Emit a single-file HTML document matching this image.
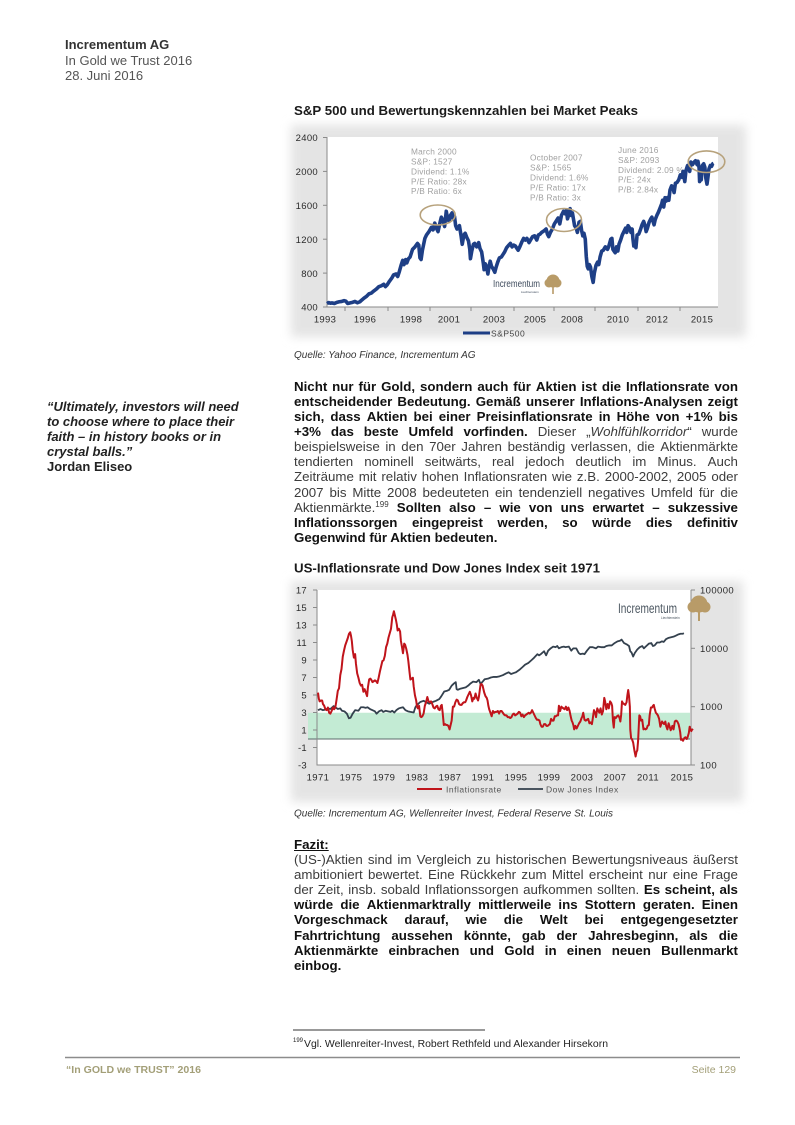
<!DOCTYPE html>
<html><head><meta charset="utf-8">
<style>
html,body{margin:0;padding:0;background:#fff;}
body{width:795px;height:1125px;position:relative;overflow:hidden;font-family:"Liberation Sans",Arial,sans-serif;}
svg{position:absolute;left:0;top:0;}
.hdr{position:absolute;left:65px;top:37px;font-size:13px;line-height:15.5px;color:#555;white-space:nowrap}
.hdr b{color:#333}
.col{position:absolute;left:294px;width:444px;font-size:13.3px;line-height:15.17px;color:#3c3c3c;}
.col b{color:#111}
.j{display:flex;justify-content:space-between;white-space:nowrap;height:15.17px}
.l{white-space:nowrap;height:15.17px}
sup{font-size:8px;line-height:0;vertical-align:5px}
.quote{position:absolute;left:47px;top:398.5px;font-size:13px;line-height:15.2px;color:#222;font-weight:bold;white-space:nowrap}
</style></head>
<body>

<div class="hdr"><b>Incrementum AG</b><br>In Gold we Trust 2016<br>28. Juni 2016</div>

<div class="quote"><i>“Ultimately, investors will need<br>to choose where to place their<br>faith – in history books or in<br>crystal balls.”</i><br>Jordan Eliseo</div>

<svg width="795" height="1125" viewBox="0 0 795 1125" xmlns="http://www.w3.org/2000/svg">
<defs>
<filter id="bl" x="-10%" y="-20%" width="120%" height="140%"><feGaussianBlur stdDeviation="5"/></filter>
</defs>

<!-- ===== Chart 1 ===== -->
<text x="294" y="115" font-family="Liberation Sans, Arial, sans-serif" font-weight="bold" font-size="13" fill="#1a1a1a" textLength="344" lengthAdjust="spacingAndGlyphs">S&amp;P 500 und Bewertungskennzahlen bei Market Peaks</text>
<rect x="291" y="125" width="455" height="212" fill="#e4e4e4" filter="url(#bl)"/>
<rect x="327" y="137" width="391" height="170" fill="#fff"/>
<g stroke="#8a8a8a" stroke-width="1">
<line x1="327" y1="137" x2="327" y2="307.5"/>
<line x1="327" y1="307" x2="718" y2="307"/>
<line x1="323" y1="137.5" x2="327" y2="137.5"/>
<line x1="323" y1="171.4" x2="327" y2="171.4"/>
<line x1="323" y1="205.3" x2="327" y2="205.3"/>
<line x1="323" y1="239.2" x2="327" y2="239.2"/>
<line x1="323" y1="273.1" x2="327" y2="273.1"/>
<line x1="323" y1="307" x2="327" y2="307"/>
<line x1="345" y1="307" x2="345" y2="311"/><line x1="388" y1="307" x2="388" y2="311"/>
<line x1="430" y1="307" x2="430" y2="311"/><line x1="471" y1="307" x2="471" y2="311"/>
<line x1="514" y1="307" x2="514" y2="311"/><line x1="554" y1="307" x2="554" y2="311"/>
<line x1="595" y1="307" x2="595" y2="311"/><line x1="638" y1="307" x2="638" y2="311"/>
<line x1="680" y1="307" x2="680" y2="311"/>
</g>
<g font-family="Liberation Sans, Arial, sans-serif" font-size="9.5" fill="#2a2a2a" text-anchor="end" letter-spacing="0.3">
<text x="318" y="141">2400</text><text x="318" y="175">2000</text><text x="318" y="209">1600</text>
<text x="318" y="243">1200</text><text x="318" y="277">800</text><text x="318" y="310.5">400</text>
</g>
<g font-family="Liberation Sans, Arial, sans-serif" font-size="9.5" fill="#2a2a2a" text-anchor="middle" letter-spacing="0.3">
<text x="325" y="322.5">1993</text><text x="365" y="322.5">1996</text><text x="411" y="322.5">1998</text>
<text x="449" y="322.5">2001</text><text x="494" y="322.5">2003</text><text x="535" y="322.5">2005</text>
<text x="572" y="322.5">2008</text><text x="618" y="322.5">2010</text><text x="657" y="322.5">2012</text>
<text x="702" y="322.5">2015</text>
</g>
<!-- annotations -->
<g font-family="Liberation Sans, Arial, sans-serif" font-size="8.3" fill="#a0a0a0" letter-spacing="0.2">
<text x="411" y="154.7">March 2000</text><text x="411" y="164.7">S&amp;P: 1527</text><text x="411" y="174.5">Dividend: 1.1%</text><text x="411" y="184.3">P/E Ratio: 28x</text><text x="411" y="194">P/B Ratio: 6x</text>
<text x="530" y="160.3">October 2007</text><text x="530" y="170.3">S&amp;P: 1565</text><text x="530" y="180.3">Dividend: 1.6%</text><text x="530" y="190.3">P/E Ratio: 17x</text><text x="530" y="200.3">P/B Ratio: 3x</text>
<text x="618" y="153">June 2016</text><text x="618" y="163">S&amp;P: 2093</text><text x="618" y="173">Dividend: 2.09 %</text><text x="618" y="182.7">P/E: 24x</text><text x="618" y="192.3">P/B: 2.84x</text>
</g>
<!-- logo 1 -->
<text x="493" y="287" font-family="Liberation Sans, Arial, sans-serif" font-size="10.5" fill="#3d4a5c" textLength="47" lengthAdjust="spacingAndGlyphs">Incrementum</text>
<text x="521" y="293" font-family="Liberation Sans, Arial, sans-serif" font-size="3" fill="#3d4a5c">Liechtenstein</text>
<g fill="#b89b68"><circle cx="553" cy="281" r="6.5"/><circle cx="549" cy="283" r="4.5"/><circle cx="557" cy="283" r="4.5"/><rect x="552.2" y="284" width="1.6" height="10"/></g>
<!-- S&P line -->
<g transform="translate(327 307) scale(16.45 -0.08475) translate(-1993 -400)">
<polyline fill="none" stroke="#1e3f86" stroke-width="3.6" stroke-linejoin="round" vector-effect="non-scaling-stroke" points="1993.00,440 1993.10,452 1993.20,445 1993.30,448 1993.45,442 1993.60,455 1993.75,462 1993.90,466 1994.05,475 1994.15,468 1994.25,442 1994.40,448 1994.55,455 1994.70,465 1994.85,450 1995.00,462 1995.10,480 1995.25,505 1995.40,525 1995.55,555 1995.70,565 1995.85,590 1996.00,612 1996.15,640 1996.30,650 1996.45,668 1996.55,640 1996.65,660 1996.80,705 1996.95,745 1997.05,780 1997.20,790 1997.30,760 1997.40,820 1997.50,890 1997.60,950 1997.68,900 1997.78,960 1997.85,920 1997.95,970 1998.05,990 1998.20,1080 1998.35,1110 1998.50,1150 1998.58,1130 1998.65,980 1998.72,960 1998.80,1070 1998.95,1210 1999.05,1250 1999.20,1290 1999.35,1340 1999.45,1310 1999.55,1390 1999.65,1330 1999.75,1290 1999.85,1380 1999.95,1460 2000.05,1420 2000.15,1350 2000.25,1530 2000.33,1440 2000.42,1410 2000.50,1480 2000.60,1510 2000.68,1440 2000.75,1470 2000.82,1360 2000.90,1320 2000.98,1340 2001.05,1360 2001.15,1240 2001.22,1140 2001.32,1250 2001.40,1270 2001.50,1220 2001.60,1180 2001.68,1080 2001.72,970 2001.80,1060 2001.90,1140 2001.98,1150 2002.10,1110 2002.22,1160 2002.30,1090 2002.40,1050 2002.50,920 2002.55,840 2002.62,910 2002.70,870 2002.78,790 2002.85,880 2002.92,940 2003.00,880 2003.10,850 2003.20,810 2003.28,870 2003.38,930 2003.48,980 2003.60,990 2003.70,1020 2003.80,1050 2003.92,1100 2004.05,1130 2004.15,1150 2004.25,1110 2004.35,1130 2004.45,1120 2004.55,1090 2004.62,1070 2004.72,1110 2004.85,1170 2004.95,1210 2005.05,1190 2005.15,1210 2005.28,1160 2005.40,1200 2005.50,1230 2005.62,1240 2005.75,1190 2005.85,1250 2005.95,1260 2006.05,1280 2006.20,1300 2006.32,1320 2006.40,1260 2006.48,1230 2006.58,1280 2006.70,1320 2006.82,1380 2006.95,1420 2007.05,1450 2007.15,1380 2007.25,1480 2007.38,1530 2007.48,1500 2007.55,1540 2007.62,1440 2007.70,1490 2007.78,1560 2007.85,1480 2007.92,1510 2007.98,1440 2008.05,1360 2008.15,1330 2008.22,1280 2008.32,1400 2008.40,1410 2008.48,1300 2008.55,1240 2008.62,1270 2008.70,1200 2008.76,1000 2008.82,880 2008.88,850 2008.95,900 2009.02,870 2009.10,760 2009.18,690 2009.25,800 2009.35,890 2009.45,930 2009.52,900 2009.60,990 2009.70,1060 2009.80,1070 2009.92,1110 2010.05,1080 2010.12,1110 2010.25,1200 2010.32,1210 2010.38,1080 2010.45,1060 2010.52,1040 2010.60,1110 2010.68,1060 2010.75,1140 2010.85,1190 2010.95,1250 2011.05,1290 2011.15,1330 2011.22,1280 2011.30,1360 2011.40,1330 2011.48,1280 2011.55,1320 2011.60,1200 2011.65,1120 2011.72,1170 2011.78,1100 2011.85,1250 2011.95,1260 2012.05,1310 2012.15,1370 2012.25,1410 2012.32,1370 2012.40,1290 2012.48,1330 2012.58,1400 2012.68,1440 2012.75,1460 2012.82,1410 2012.88,1370 2012.95,1430 2013.05,1480 2013.15,1520 2013.25,1570 2013.35,1620 2013.40,1660 2013.47,1580 2013.55,1690 2013.62,1650 2013.70,1690 2013.78,1660 2013.85,1780 2013.95,1830 2014.05,1790 2014.10,1750 2014.18,1860 2014.28,1870 2014.38,1900 2014.48,1960 2014.58,1930 2014.65,2000 2014.75,1880 2014.82,2010 2014.92,2070 2014.98,2040 2015.05,2000 2015.12,2110 2015.22,2080 2015.32,2110 2015.40,2125 2015.50,2080 2015.55,2120 2015.62,2040 2015.65,1880 2015.70,1930 2015.75,1900 2015.82,2070 2015.90,2090 2015.97,2050 2016.03,1920 2016.10,1850 2016.15,1920 2016.22,2030 2016.30,2070 2016.38,2060 2016.45,2090 2016.50,2095"/>
</g>
<!-- ellipses -->
<g fill="none" stroke="#b7a27c" stroke-width="1.6">
<ellipse cx="437.7" cy="215" rx="17.5" ry="10"/>
<ellipse cx="564" cy="220" rx="17.5" ry="11.5"/>
<ellipse cx="706.5" cy="161.7" rx="18.3" ry="10.8"/>
</g>
<!-- legend 1 -->
<line x1="463" y1="333" x2="490" y2="333" stroke="#1e3f86" stroke-width="3"/>
<text x="491" y="336.3" font-family="Liberation Sans, Arial, sans-serif" font-size="8.5" fill="#444" letter-spacing="0.5">S&amp;P500</text>
<text x="294" y="358" font-family="Liberation Sans, Arial, sans-serif" font-style="italic" font-size="10" fill="#333">Quelle: Yahoo Finance, Incrementum AG</text>

<!-- ===== Chart 2 ===== -->
<text x="294" y="572.5" font-family="Liberation Sans, Arial, sans-serif" font-weight="bold" font-size="13" fill="#1a1a1a" textLength="306" lengthAdjust="spacingAndGlyphs">US-Inflationsrate und Dow Jones Index seit 1971</text>
<rect x="291" y="581" width="452" height="221" fill="#e4e4e4" filter="url(#bl)"/>
<rect x="317" y="590" width="374" height="175" fill="#fff"/>
<rect x="308" y="712.75" width="382" height="26.25" fill="#c3ebd4"/>
<line x1="308" y1="739" x2="690" y2="739" stroke="#5d6b6b" stroke-width="1"/>
<g stroke="#8a8a8a" stroke-width="1">
<line x1="317" y1="590" x2="317" y2="765.5"/>
<line x1="691" y1="590" x2="691" y2="765.5"/>
<line x1="317" y1="765" x2="691" y2="765"/>
<line x1="313" y1="590" x2="317" y2="590"/><line x1="313" y1="607.5" x2="317" y2="607.5"/>
<line x1="313" y1="625" x2="317" y2="625"/><line x1="313" y1="642.5" x2="317" y2="642.5"/>
<line x1="313" y1="660" x2="317" y2="660"/><line x1="313" y1="677.5" x2="317" y2="677.5"/>
<line x1="313" y1="695" x2="317" y2="695"/><line x1="313" y1="712.5" x2="317" y2="712.5"/>
<line x1="313" y1="730" x2="317" y2="730"/><line x1="313" y1="747.5" x2="317" y2="747.5"/>
<line x1="691" y1="590" x2="695" y2="590"/><line x1="691" y1="648.3" x2="695" y2="648.3"/>
<line x1="691" y1="706.7" x2="695" y2="706.7"/><line x1="691" y1="765" x2="695" y2="765"/>
</g>
<g font-family="Liberation Sans, Arial, sans-serif" font-size="9.5" fill="#2a2a2a" text-anchor="end" letter-spacing="0.3">
<text x="307" y="593.5">17</text><text x="307" y="611">15</text><text x="307" y="628.5">13</text>
<text x="307" y="646">11</text><text x="307" y="663.5">9</text><text x="307" y="681">7</text>
<text x="307" y="698.5">5</text><text x="307" y="716">3</text><text x="307" y="733.5">1</text>
<text x="307" y="751">-1</text><text x="307" y="768.5">-3</text>
</g>
<g font-family="Liberation Sans, Arial, sans-serif" font-size="9.5" fill="#2a2a2a" letter-spacing="0.4">
<text x="700" y="593.5">100000</text><text x="700" y="651.8">10000</text>
<text x="700" y="710.2">1000</text><text x="700" y="768.5">100</text>
</g>
<g font-family="Liberation Sans, Arial, sans-serif" font-size="9.5" fill="#2a2a2a" text-anchor="middle" letter-spacing="0.4">
<text x="318" y="780.5">1971</text><text x="351" y="780.5">1975</text><text x="384" y="780.5">1979</text>
<text x="417" y="780.5">1983</text><text x="450" y="780.5">1987</text><text x="483" y="780.5">1991</text>
<text x="516" y="780.5">1995</text><text x="549" y="780.5">1999</text><text x="582" y="780.5">2003</text>
<text x="615" y="780.5">2007</text><text x="648" y="780.5">2011</text><text x="682" y="780.5">2015</text>
</g>
<!-- logo 2 -->
<text x="618" y="613" font-family="Liberation Sans, Arial, sans-serif" font-size="13.5" fill="#4d5862" textLength="59" lengthAdjust="spacingAndGlyphs">Incrementum</text>
<text x="661" y="619" font-family="Liberation Sans, Arial, sans-serif" font-size="3.2" fill="#4d5862">Liechtenstein</text>
<g fill="#b89b68"><circle cx="699" cy="604" r="8.5"/><circle cx="693" cy="607" r="5.5"/><circle cx="705" cy="607" r="5.5"/><rect x="698" y="608" width="2" height="13"/></g>
<!-- Dow Jones (log) -->
<g transform="translate(318 765) scale(8.25 -58.33) translate(-1971 -2)">
<polyline fill="none" stroke="#34414e" stroke-width="1.8" stroke-linejoin="round" vector-effect="non-scaling-stroke" points="1971.0,2.94 1971.3,2.96 1971.6,2.94 1971.9,2.95 1972.2,2.97 1972.5,2.96 1972.9,3.01 1973.1,2.99 1973.4,2.96 1973.7,2.97 1973.9,2.93 1974.2,2.92 1974.5,2.88 1974.75,2.80 1974.95,2.81 1975.2,2.88 1975.5,2.94 1975.9,2.93 1976.2,2.99 1976.5,2.99 1976.8,2.98 1977.0,2.99 1977.3,2.96 1977.6,2.94 1977.9,2.92 1978.1,2.88 1978.4,2.92 1978.7,2.94 1978.9,2.91 1979.2,2.93 1979.5,2.92 1979.8,2.91 1980.0,2.93 1980.25,2.90 1980.5,2.94 1980.8,2.97 1981.0,2.98 1981.3,2.99 1981.6,2.94 1981.9,2.92 1982.2,2.91 1982.6,2.90 1982.8,2.99 1983.0,3.03 1983.4,3.08 1983.8,3.10 1984.2,3.07 1984.5,3.05 1984.9,3.08 1985.3,3.10 1985.7,3.13 1985.95,3.18 1986.3,3.26 1986.6,3.27 1986.9,3.29 1987.2,3.36 1987.5,3.40 1987.7,3.42 1987.8,3.30 1987.95,3.29 1988.3,3.31 1988.6,3.32 1988.9,3.33 1989.2,3.36 1989.5,3.40 1989.8,3.43 1990.2,3.42 1990.5,3.46 1990.7,3.39 1990.9,3.42 1991.2,3.47 1991.6,3.48 1991.95,3.50 1992.3,3.51 1992.7,3.51 1993.0,3.52 1993.4,3.54 1993.8,3.57 1994.1,3.59 1994.4,3.56 1994.8,3.58 1995.0,3.59 1995.4,3.63 1995.8,3.68 1996.1,3.72 1996.5,3.75 1996.9,3.80 1997.2,3.84 1997.6,3.90 1997.8,3.88 1998.0,3.90 1998.4,3.95 1998.65,3.88 1998.9,3.96 1999.2,4.00 1999.5,4.03 1999.8,4.02 2000.0,4.04 2000.2,4.00 2000.5,4.02 2000.8,4.03 2001.0,4.02 2001.4,4.03 2001.7,3.96 2001.95,4.00 2002.3,4.00 2002.6,3.92 2002.8,3.90 2003.1,3.91 2003.3,3.90 2003.6,3.96 2003.95,4.02 2004.3,4.02 2004.7,4.00 2004.95,4.03 2005.3,4.02 2005.7,4.02 2005.95,4.04 2006.3,4.05 2006.6,4.05 2006.95,4.09 2007.3,4.12 2007.6,4.13 2007.8,4.15 2008.1,4.09 2008.4,4.07 2008.7,4.04 2008.85,3.95 2009.0,3.93 2009.2,3.86 2009.4,3.92 2009.7,3.98 2010.0,4.02 2010.3,4.04 2010.5,4.00 2010.8,4.04 2011.1,4.08 2011.4,4.09 2011.6,4.04 2011.8,4.05 2012.1,4.10 2012.4,4.10 2012.7,4.12 2012.9,4.11 2013.2,4.16 2013.5,4.18 2013.8,4.19 2014.1,4.20 2014.4,4.22 2014.7,4.24 2014.95,4.25 2015.2,4.25 2015.35,4.26"/>
</g>
<!-- Inflation -->
<g transform="translate(318 739) scale(8.25 -8.75) translate(-1971 0)">
<polyline fill="none" stroke="#c0141b" stroke-width="2" stroke-linejoin="round" vector-effect="non-scaling-stroke" points="1971.0,5.3 1971.1,4.6 1971.2,4.3 1971.35,4.4 1971.5,4.4 1971.6,4.0 1971.75,3.8 1971.9,3.4 1972.05,3.3 1972.2,3.6 1972.35,3.0 1972.5,2.9 1972.65,3.2 1972.8,3.6 1972.95,3.4 1973.1,3.6 1973.25,4.5 1973.4,5.5 1973.55,5.8 1973.7,7.3 1973.85,8.0 1974.0,9.4 1974.15,10.1 1974.3,10.7 1974.45,11.1 1974.6,11.5 1974.75,12.0 1974.9,12.2 1975.0,11.8 1975.1,11.2 1975.2,10.2 1975.35,9.3 1975.5,9.7 1975.6,8.6 1975.75,7.5 1975.9,7.0 1976.05,6.4 1976.2,6.1 1976.35,6.2 1976.5,5.4 1976.65,5.7 1976.8,5.3 1976.95,4.9 1977.05,5.9 1977.2,6.8 1977.35,6.9 1977.5,6.7 1977.6,6.5 1977.75,6.6 1977.9,6.7 1978.05,6.6 1978.2,6.4 1978.35,7.0 1978.5,7.7 1978.65,8.3 1978.8,8.9 1978.95,9.0 1979.1,9.5 1979.25,10.5 1979.4,10.9 1979.55,11.6 1979.7,12.1 1979.85,12.6 1980.0,13.9 1980.1,14.2 1980.2,14.6 1980.3,14.2 1980.45,13.6 1980.55,13.1 1980.65,12.4 1980.8,12.6 1980.95,12.3 1981.05,11.2 1981.2,10.4 1981.3,9.8 1981.45,10.9 1981.55,10.8 1981.7,10.3 1981.85,9.6 1981.95,8.9 1982.1,7.6 1982.2,6.8 1982.35,6.9 1982.5,7.0 1982.6,6.0 1982.75,5.0 1982.9,4.4 1983.0,3.7 1983.1,3.5 1983.25,3.8 1983.4,2.6 1983.5,2.5 1983.65,2.6 1983.8,2.9 1983.95,3.8 1984.1,4.2 1984.25,4.8 1984.4,4.3 1984.55,4.2 1984.7,4.3 1984.85,4.0 1985.0,3.6 1985.15,3.5 1985.3,3.7 1985.45,3.8 1985.6,3.4 1985.75,3.3 1985.9,3.8 1986.0,3.9 1986.1,3.1 1986.25,1.6 1986.4,1.7 1986.55,1.6 1986.65,1.6 1986.8,1.5 1986.95,1.1 1987.05,1.5 1987.2,2.1 1987.35,3.7 1987.5,3.7 1987.65,4.2 1987.8,4.5 1987.95,4.4 1988.1,4.0 1988.25,3.9 1988.4,3.9 1988.55,4.1 1988.7,4.2 1988.85,4.2 1988.95,4.4 1989.1,4.8 1989.25,5.1 1989.4,5.4 1989.55,5.0 1989.7,4.3 1989.85,4.7 1989.95,4.6 1990.1,5.2 1990.25,4.7 1990.4,4.4 1990.5,4.8 1990.6,5.5 1990.7,6.2 1990.8,6.3 1990.95,6.1 1991.05,5.7 1991.15,5.3 1991.3,4.9 1991.45,4.7 1991.55,4.4 1991.65,3.8 1991.75,3.4 1991.9,3.0 1992.05,2.6 1992.2,3.2 1992.35,3.0 1992.5,3.1 1992.65,3.1 1992.8,3.2 1992.95,2.9 1993.1,3.2 1993.25,3.2 1993.4,3.0 1993.55,2.8 1993.7,2.7 1993.85,2.7 1994.0,2.5 1994.15,2.5 1994.3,2.4 1994.45,2.5 1994.6,2.8 1994.75,2.9 1994.9,2.7 1995.05,2.8 1995.2,2.9 1995.35,3.1 1995.5,3.0 1995.65,2.6 1995.8,2.8 1995.95,2.5 1996.1,2.7 1996.25,2.8 1996.4,2.9 1996.55,3.0 1996.65,2.9 1996.8,3.0 1996.95,3.3 1997.1,3.0 1997.25,2.7 1997.4,2.4 1997.55,2.2 1997.7,2.2 1997.85,2.1 1997.95,1.7 1998.1,1.4 1998.25,1.4 1998.4,1.7 1998.55,1.7 1998.7,1.5 1998.85,1.5 1998.95,1.6 1999.1,1.7 1999.25,2.3 1999.4,2.1 1999.55,2.1 1999.7,2.6 1999.85,2.6 1999.95,2.7 2000.1,2.7 2000.2,3.8 2000.35,3.2 2000.5,3.7 2000.6,3.6 2000.75,3.5 2000.9,3.4 2001.05,3.7 2001.2,3.3 2001.35,3.6 2001.5,3.2 2001.6,2.7 2001.75,2.1 2001.85,1.9 2001.95,1.6 2002.05,1.1 2002.2,1.5 2002.35,1.2 2002.5,1.5 2002.65,1.8 2002.8,2.0 2002.95,2.4 2003.05,2.6 2003.15,3.0 2003.3,2.2 2003.45,2.1 2003.6,2.2 2003.75,2.3 2003.9,1.8 2004.05,1.9 2004.2,1.7 2004.3,2.3 2004.45,3.3 2004.6,3.0 2004.7,2.5 2004.85,3.5 2004.95,3.3 2005.1,3.0 2005.25,3.5 2005.4,2.8 2005.55,3.2 2005.7,4.7 2005.8,4.3 2005.95,3.4 2006.1,4.0 2006.25,3.5 2006.4,4.3 2006.55,4.1 2006.65,3.8 2006.75,2.1 2006.85,1.3 2006.95,2.5 2007.1,2.4 2007.25,2.6 2007.4,2.7 2007.55,2.4 2007.65,2.0 2007.75,2.8 2007.85,4.3 2007.95,4.1 2008.1,4.0 2008.25,3.9 2008.4,4.2 2008.5,5.0 2008.6,5.6 2008.7,4.9 2008.8,3.7 2008.85,1.1 2008.95,0.1 2009.05,0.0 2009.2,-0.4 2009.35,-1.3 2009.5,-2.0 2009.6,-1.5 2009.7,-1.3 2009.8,-0.2 2009.9,1.8 2009.95,2.7 2010.05,2.6 2010.15,2.1 2010.3,2.2 2010.45,1.1 2010.55,1.2 2010.7,1.1 2010.85,1.2 2010.95,1.5 2011.1,1.6 2011.2,2.7 2011.35,3.6 2011.5,3.6 2011.6,3.8 2011.7,3.9 2011.8,3.5 2011.95,3.0 2012.05,2.9 2012.2,2.7 2012.35,2.3 2012.5,1.4 2012.6,1.7 2012.7,2.0 2012.85,1.8 2012.95,1.7 2013.1,2.0 2013.2,1.5 2013.35,1.1 2013.5,1.8 2013.6,1.5 2013.75,1.0 2013.85,1.2 2013.95,1.5 2014.1,1.1 2014.25,2.0 2014.4,2.1 2014.55,2.0 2014.7,1.7 2014.8,1.3 2014.9,0.8 2015.0,-0.1 2015.1,0.0 2015.25,-0.2 2015.4,0.1 2015.55,0.2 2015.7,0.0 2015.8,0.2 2015.95,0.7 2016.05,1.4 2016.15,1.0 2016.25,0.9 2016.35,1.1 2016.45,1.0"/>
</g>
<!-- legend 2 -->
<line x1="417" y1="789" x2="442" y2="789" stroke="#c0141b" stroke-width="2"/>
<text x="446" y="792.3" font-family="Liberation Sans, Arial, sans-serif" font-size="8.5" fill="#555" letter-spacing="0.5">Inflationsrate</text>
<line x1="518" y1="789" x2="543" y2="789" stroke="#34414e" stroke-width="1.8"/>
<text x="546" y="792.3" font-family="Liberation Sans, Arial, sans-serif" font-size="8.5" fill="#555" letter-spacing="0.5">Dow Jones Index</text>
<text x="294" y="816.5" font-family="Liberation Sans, Arial, sans-serif" font-style="italic" font-size="10" fill="#333">Quelle: Incrementum AG, Wellenreiter Invest, Federal Reserve St. Louis</text>

<!-- footnote + footer -->
<line x1="293" y1="1030" x2="485" y2="1030" stroke="#333" stroke-width="1"/>
<text x="293" y="1042" font-family="Liberation Sans, Arial, sans-serif" font-size="6" fill="#222">199</text>
<text x="304" y="1047" font-family="Liberation Sans, Arial, sans-serif" font-size="10.5" fill="#222" textLength="304" lengthAdjust="spacingAndGlyphs">Vgl. Wellenreiter-Invest, Robert Rethfeld und Alexander Hirsekorn</text>
<line x1="65" y1="1057.5" x2="740" y2="1057.5" stroke="#8c8c8c" stroke-width="1.5"/>
<text x="66" y="1073" font-family="Liberation Sans, Arial, sans-serif" font-weight="bold" font-size="10.5" fill="#a39f78" textLength="135" lengthAdjust="spacingAndGlyphs">“In GOLD we TRUST” 2016</text>
<text x="736" y="1073" text-anchor="end" font-family="Liberation Sans, Arial, sans-serif" font-size="10.5" fill="#a39f78">Seite 129</text>
</svg>

<div class="col" style="top:378.5px">
<div class="j"><b>Nicht</b><b>nur</b><b>für</b><b>Gold,</b><b>sondern</b><b>auch</b><b>für</b><b>Aktien</b><b>ist</b><b>die</b><b>Inflationsrate</b><b>von</b></div>
<div class="j"><b>entscheidender</b><b>Bedeutung.</b><b>Gemäß</b><b>unserer</b><b>Inflations-Analysen</b><b>zeigt</b></div>
<div class="j"><b>sich,</b><b>dass</b><b>Aktien</b><b>bei</b><b>einer</b><b>Preisinflationsrate</b><b>in</b><b>Höhe</b><b>von</b><b>+1%</b><b>bis</b></div>
<div class="j"><b>+3%</b><b>das</b><b>beste</b><b>Umfeld</b><b>vorfinden.</b><span>Dieser</span><span>„<i>Wohlfühlkorridor</i>“</span><span>wurde</span></div>
<div class="j"><span>beispielsweise</span><span>in</span><span>den</span><span>70er</span><span>Jahren</span><span>beständig</span><span>verlassen,</span><span>die</span><span>Aktienmärkte</span></div>
<div class="j"><span>tendierten</span><span>nominell</span><span>seitwärts,</span><span>real</span><span>jedoch</span><span>deutlich</span><span>im</span><span>Minus.</span><span>Auch</span></div>
<div class="j"><span>Zeiträume</span><span>mit</span><span>relativ</span><span>hohen</span><span>Inflationsraten</span><span>wie</span><span>z.B.</span><span>2000-2002,</span><span>2005</span><span>oder</span></div>
<div class="j"><span>2007</span><span>bis</span><span>Mitte</span><span>2008</span><span>bedeuteten</span><span>ein</span><span>tendenziell</span><span>negatives</span><span>Umfeld</span><span>für</span><span>die</span></div>
<div class="j"><span>Aktienmärkte.<sup>199</sup></span><b>Sollten</b><b>also</b><b>–</b><b>wie</b><b>von</b><b>uns</b><b>erwartet</b><b>–</b><b>sukzessive</b></div>
<div class="j"><b>Inflationssorgen</b><b>eingepreist</b><b>werden,</b><b>so</b><b>würde</b><b>dies</b><b>definitiv</b></div>
<div class="l"><b>Gegenwind für Aktien bedeuten.</b></div>
</div>

<div class="col" style="top:836.6px">
<div class="l"><b style="text-decoration:underline">Fazit:</b></div>
<div class="j"><span>(US-)Aktien</span><span>sind</span><span>im</span><span>Vergleich</span><span>zu</span><span>historischen</span><span>Bewertungsniveaus</span><span>äußerst</span></div>
<div class="j"><span>ambitioniert</span><span>bewertet.</span><span>Eine</span><span>Rückkehr</span><span>zum</span><span>Mittel</span><span>erscheint</span><span>nur</span><span>eine</span><span>Frage</span></div>
<div class="j"><span>der</span><span>Zeit,</span><span>insb.</span><span>sobald</span><span>Inflationssorgen</span><span>aufkommen</span><span>sollten.</span><b>Es</b><b>scheint,</b><b>als</b></div>
<div class="j"><b>würde</b><b>die</b><b>Aktienmarktrally</b><b>mittlerweile</b><b>ins</b><b>Stottern</b><b>geraten.</b><b>Einen</b></div>
<div class="j"><b>Vorgeschmack</b><b>darauf,</b><b>wie</b><b>die</b><b>Welt</b><b>bei</b><b>entgegengesetzter</b></div>
<div class="j"><b>Fahrtrichtung</b><b>aussehen</b><b>könnte,</b><b>gab</b><b>der</b><b>Jahresbeginn,</b><b>als</b><b>die</b></div>
<div class="j"><b>Aktienmärkte</b><b>einbrachen</b><b>und</b><b>Gold</b><b>in</b><b>einen</b><b>neuen</b><b>Bullenmarkt</b></div>
<div class="l"><b>einbog.</b></div>
</div>

</body></html>
